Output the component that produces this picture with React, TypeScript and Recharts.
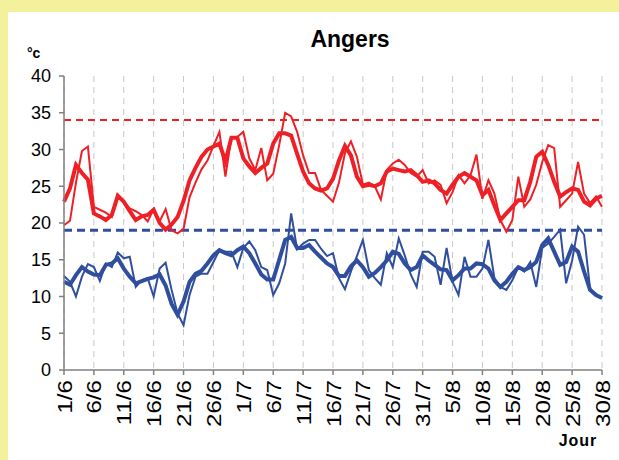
import React from 'react';
import { LineChart, Line, XAxis, YAxis, CartesianGrid, ReferenceLine } from 'recharts';

const dates = [
  '1/6', '2/6', '3/6', '4/6', '5/6', '6/6', '7/6', '8/6', '9/6', '10/6',
  '11/6', '12/6', '13/6', '14/6', '15/6', '16/6', '17/6', '18/6', '19/6', '20/6',
  '21/6', '22/6', '23/6', '24/6', '25/6', '26/6', '27/6', '28/6', '29/6', '30/6',
  '1/7', '2/7', '3/7', '4/7', '5/7', '6/7', '7/7', '8/7', '9/7', '10/7',
  '11/7', '12/7', '13/7', '14/7', '15/7', '16/7', '17/7', '18/7', '19/7', '20/7',
  '21/7', '22/7', '23/7', '24/7', '25/7', '26/7', '27/7', '28/7', '29/7', '30/7',
  '31/7', '1/8', '2/8', '3/8', '4/8', '5/8', '6/8', '7/8', '8/8', '9/8',
  '10/8', '11/8', '12/8', '13/8', '14/8', '15/8', '16/8', '17/8', '18/8', '19/8',
  '20/8', '21/8', '22/8', '23/8', '24/8', '25/8', '26/8', '27/8', '28/8', '29/8',
  '30/8',
];

// Daily maximum temperature (thin red)
const maxTemp = [
  19.7, 20.3, 25.5, 29.8, 30.4, 22.2, 21.8, 21.4, 20.8, 23.8,
  22.9, 22.0, 21.6, 21.1, 20.2, 21.9, 20.2, 21.9, 19.0, 18.6,
  19.2, 23.5, 25.5, 27.3, 28.5, 30.5, 32.4, 26.3, 31.7, 31.7,
  32.4, 28.8, 27.2, 30.2, 25.8, 26.7, 30.6, 35.0, 34.5, 32.4,
  29.2, 26.8, 26.8, 24.5, 23.7, 22.9, 25.5, 29.5, 31.1, 29.0,
  25.2, 25.5, 25.0, 23.2, 27.2, 28.1, 28.6, 27.9, 26.8, 26.3,
  27.2, 25.4, 25.8, 25.2, 22.7, 24.2, 26.5, 25.4, 26.5, 29.3,
  23.3, 25.8, 24.0, 20.4, 18.8, 20.4, 26.3, 22.2, 23.2, 25.2,
  28.3, 30.6, 30.2, 22.2, 23.1, 24.0, 28.3, 24.0, 22.7, 23.6,
  22.2,
];

// Smoothed maximum (thick red)
const maxSmooth = [
  22.9, 24.7, 27.9, 26.8, 25.9, 21.3, 20.9, 20.4, 21.1, 23.7,
  22.9, 21.6, 20.4, 20.9, 21.1, 21.8, 20.0, 19.1, 19.8, 20.8,
  23.0, 25.8, 27.5, 29.0, 30.0, 30.4, 30.8, 28.4, 31.6, 31.6,
  28.8, 27.7, 26.8, 27.5, 28.1, 30.8, 32.2, 32.2, 31.9, 29.4,
  27.0, 25.4, 24.7, 24.4, 24.7, 26.0, 28.5, 30.5, 29.2, 26.3,
  25.0, 25.2, 25.0, 25.4, 27.0, 27.4, 27.2, 27.0, 27.2, 26.5,
  25.6, 25.8, 25.4, 24.5, 24.0, 25.2, 26.3, 26.8, 26.3, 25.8,
  23.8, 24.5, 22.4, 20.4, 21.3, 22.2, 23.1, 23.1, 25.6, 29.0,
  29.7, 27.9, 25.6, 23.6, 24.2, 24.7, 24.5, 22.9, 22.4, 23.3,
  23.7,
];

// Daily minimum temperature (thin blue)
const minTemp = [
  12.8, 12.0, 10.0, 12.7, 14.4, 14.0, 12.1, 14.5, 14.0, 16.0,
  15.2, 15.4, 11.3, 12.2, 12.5, 10.0, 13.8, 14.6, 10.9, 7.7,
  6.1, 10.2, 12.7, 13.1, 13.1, 14.7, 16.3, 16.1, 16.1, 14.0,
  16.6, 17.5, 16.3, 14.0, 13.6, 10.2, 11.8, 14.5, 21.3, 16.4,
  17.2, 17.7, 17.7, 16.5, 15.5, 15.9, 12.5, 11.0, 13.4, 15.5,
  17.7, 13.6, 12.5, 11.6, 15.9, 14.0, 17.9, 15.6, 13.0, 11.3,
  16.1, 16.1, 15.4, 11.6, 16.6, 12.0, 10.2, 15.4, 12.7, 12.7,
  13.8, 17.7, 12.5, 11.3, 10.9, 12.2, 14.0, 13.4, 14.7, 11.3,
  16.6, 17.2, 18.1, 19.1, 11.8, 14.9, 19.5, 18.4, 11.1, 10.2,
  9.8,
];

// Smoothed minimum (thick blue)
const minSmooth = [
  12.0, 11.6, 12.9, 14.0, 13.4, 13.0, 12.9, 14.3, 14.5, 15.2,
  13.8, 12.7, 11.8, 12.1, 12.4, 12.6, 13.0, 11.5, 9.0, 7.5,
  9.3, 12.0, 13.1, 13.5, 14.5, 15.6, 16.3, 15.9, 15.6, 16.3,
  16.8, 15.9, 14.5, 13.0, 12.3, 12.3, 15.0, 17.7, 18.1, 16.6,
  16.6, 17.0, 16.1, 15.3, 14.5, 14.0, 12.8, 12.8, 14.1, 14.9,
  14.0, 12.7, 13.2, 14.0, 14.9, 16.1, 15.8, 14.5, 13.6, 14.0,
  15.6, 14.9, 14.3, 13.7, 13.6, 12.2, 12.9, 13.8, 13.8, 14.5,
  14.4, 13.8, 12.2, 11.3, 12.0, 13.1, 14.0, 13.6, 14.0, 14.7,
  17.0, 17.9, 16.1, 14.3, 14.7, 16.8, 16.1, 13.4, 10.9, 10.2,
  9.8,
];

const yTicks = [0, 5, 10, 15, 20, 25, 30, 35, 40];
const maxRef = 34;
const minRef = 19;

const data = dates.map((d, i) => ({
  d,
  tmax: maxTemp[i],
  smax: maxSmooth[i],
  tmin: minTemp[i],
  smin: minSmooth[i],
}));

const FONT = '"Liberation Sans", Arial, Helvetica, sans-serif';
const RED = '#ee2026';
const BLUE = '#2f4f9e';
const AXIS = '#808080';

const XTick = (props: any) => {
  const { x, y, payload } = props;
  const py = y + 3;
  return (
    <text
      x={0}
      y={0}
      transform={`translate(${x} ${py}) rotate(-90) scale(1.15 1)`}
      textAnchor="end"
      dy="0.36em"
      fontSize={21}
      fontFamily={FONT}
      fill="#000"
    >
      {payload.value}
    </text>
  );
};

export default function App() {
  return (
    <div
      style={{
        position: 'absolute',
        left: 0,
        top: 0,
        width: 619,
        height: 460,
        background: '#f4f19c',
        overflow: 'hidden',
      }}
    >
      <div
        style={{
          position: 'absolute',
          left: 8,
          top: 12,
          width: 611,
          height: 448,
          background: '#ffffff',
        }}
      />
      <div style={{ position: 'absolute', left: 0, top: 0 }}>
        <LineChart
          width={619}
          height={460}
          data={data}
          margin={{ top: 76, right: 17, bottom: 20, left: 0 }}
        >
          <CartesianGrid
            vertical={true}
            horizontal={false}
            stroke="#c8c8c8"
            strokeDasharray="6 5"
          />
          <XAxis
            dataKey="d"
            interval={4}
            height={70}
            tickSize={5}
            tick={<XTick />}
            axisLine={{ stroke: AXIS, strokeWidth: 1.5 }}
            tickLine={{ stroke: AXIS, strokeWidth: 1.5 }}
          />
          <YAxis
            width={64}
            domain={[0, 40]}
            ticks={yTicks}
            interval={0}
            tickSize={5}
            tickMargin={8}
            tick={{ fontSize: 18, fill: '#000', fontFamily: FONT }}
            axisLine={{ stroke: AXIS, strokeWidth: 1.5 }}
            tickLine={{ stroke: AXIS, strokeWidth: 1.5 }}
          />
          <ReferenceLine y={maxRef} stroke={RED} strokeWidth={2} strokeDasharray="7 5" />
          <ReferenceLine y={minRef} stroke={BLUE} strokeWidth={3} strokeDasharray="8 5" />
          <Line type="linear" dataKey="tmin" stroke={BLUE} strokeWidth={2} dot={false} isAnimationActive={false} />
          <Line type="linear" dataKey="smin" stroke={BLUE} strokeWidth={4} dot={false} isAnimationActive={false} />
          <Line type="linear" dataKey="tmax" stroke={RED} strokeWidth={2} dot={false} isAnimationActive={false} />
          <Line type="linear" dataKey="smax" stroke={RED} strokeWidth={4} dot={false} isAnimationActive={false} />
        </LineChart>
      </div>
      <svg
        width={619}
        height={460}
        style={{ position: 'absolute', left: 0, top: 0, pointerEvents: 'none' }}
      >
        <text x={350} y={47} textAnchor="middle" fontFamily={FONT} fontWeight="bold" fontSize={23} fill="#000">
          Angers
        </text>
        <text x={27} y={58} fontFamily={FONT} fontWeight="bold" fontSize={14} fill="#000">
          °c
        </text>
        <text x={578} y={446} textAnchor="middle" fontFamily={FONT} fontWeight="bold" fontSize={16} letterSpacing={1} fill="#000">
          Jour
        </text>
      </svg>
    </div>
  );
}
